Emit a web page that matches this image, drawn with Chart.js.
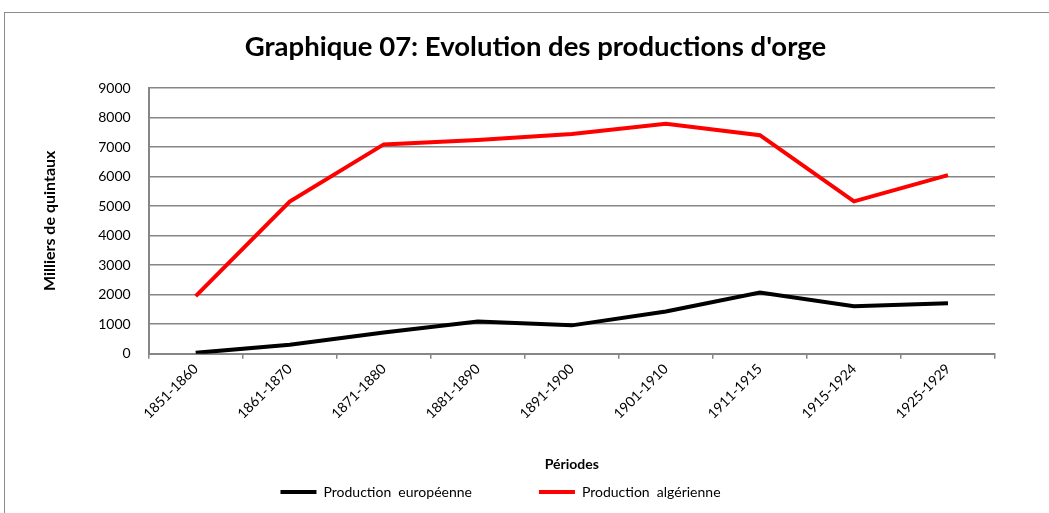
<!DOCTYPE html>
<html>
<head>
<meta charset="utf-8">
<script src="https://cdn.jsdelivr.net/npm/chart.js@4/dist/chart.umd.min.js"></script>
<style>
  html, body { margin: 0; padding: 0; background: #fff; }
  #wrap { position: relative; width: 1049px; height: 513px; }
  #frame { position: absolute; left: 4px; top: 12px; width: 1060px; height: 520px; border: 1px solid #8c8c8c; box-sizing: border-box; }
  canvas { position: absolute; left: 0; top: 0; }
</style>
</head>
<body>
<div id="wrap">
  <div id="frame"></div>
  <canvas id="chart" width="1049" height="513"></canvas>
</div>
<script>
const periodes = ['1851-1860', '1861-1870', '1871-1880', '1881-1890', '1891-1900', '1901-1910', '1911-1915', '1915-1924', '1925-1929'];
const productionEuropeenne = [30, 300, 720, 1090, 960, 1430, 2070, 1610, 1710];
const productionAlgerienne = [1950, 5150, 7090, 7240, 7440, 7790, 7400, 5160, 6050];
const yTicks = [0, 1000, 2000, 3000, 4000, 5000, 6000, 7000, 8000, 9000];

const fontFamily = 'Lato, "Open Sans", sans-serif';

// the original has its title a bit right of centre and its legend a bit left
const nudgeBlocks = {
    id: 'nudgeBlocks',
    afterLayout(chart) {
        if (chart.titleBlock) { chart.titleBlock.left += 18; chart.titleBlock.right += 18; }
        if (chart.legend) { chart.legend.left -= 17; chart.legend.right -= 17; }
    }
};

new Chart(document.getElementById('chart'), {
    type: 'line',
    data: {
        labels: periodes,
        datasets: [
            {
                label: 'Production  européenne',
                data: productionEuropeenne,
                borderColor: '#000000',
                backgroundColor: '#000000',
                borderWidth: 4,
                pointRadius: 0,
                tension: 0
            },
            {
                label: 'Production  algérienne',
                data: productionAlgerienne,
                borderColor: '#ff0000',
                backgroundColor: '#ff0000',
                borderWidth: 4,
                pointRadius: 0,
                tension: 0
            }
        ]
    },
    options: {
        responsive: false,
        animation: false,
        layout: { padding: { left: 40, right: 54, top: 14, bottom: 4 } },
        plugins: {
            title: {
                display: true,
                text: "Graphique 07: Evolution des productions d'orge",
                color: '#000',
                font: { family: fontFamily, size: 27.5, weight: 'bold' },
                padding: { top: 17, bottom: 24 }
            },
            legend: {
                position: 'bottom',
                labels: {
                    color: '#000',
                    boxWidth: 36,
                    boxHeight: 4,
                    padding: 4,
                    font: { family: fontFamily, size: 14 },
                    // wider gap between the two entries, like the original
                    generateLabels: chart => {
                        const items = Chart.defaults.plugins.legend.labels.generateLabels(chart);
                        items.forEach((it, i) => {
                            it.lineWidth = 0;
                            if (i < items.length - 1) it.text += '\u2003\u2003\u2003\u2003\u2003\u2003';
                        });
                        return items;
                    }
                }
            },
            tooltip: { enabled: false }
        },
        scales: {
            x: {
                offset: true,
                grid: {
                    offset: true,
                    drawOnChartArea: false,
                    drawTicks: true,
                    tickLength: 5,
                    color: '#868686',
                    lineWidth: 1.5
                },
                border: { color: '#868686', width: 2 },
                ticks: {
                    color: '#000',
                    maxRotation: 45,
                    minRotation: 45,
                    padding: 2,
                    font: { family: fontFamily, size: 14 }
                },
                title: {
                    display: true,
                    text: 'Périodes',
                    color: '#000',
                    font: { family: fontFamily, size: 14, weight: 'bold' },
                    padding: { top: 32, bottom: 8 }
                }
            },
            y: {
                min: 0,
                max: 9000,
                afterBuildTicks: axis => { axis.ticks = yTicks.map(v => ({ value: v })); },
                grid: {
                    color: '#868686',
                    lineWidth: 1.5,
                    drawTicks: false
                },
                border: { color: '#868686', width: 2 },
                ticks: {
                    color: '#000',
                    padding: 18,
                    font: { family: fontFamily, size: 14 },
                    callback: v => String(v)
                },
                title: {
                    display: true,
                    text: 'Milliers de quintaux',
                    color: '#000',
                    font: { family: fontFamily, size: 16, weight: 'bold' },
                    padding: { top: 0, bottom: 21 }
                }
            }
        }
    },
    plugins: [nudgeBlocks]
});
</script>
</body>
</html>
